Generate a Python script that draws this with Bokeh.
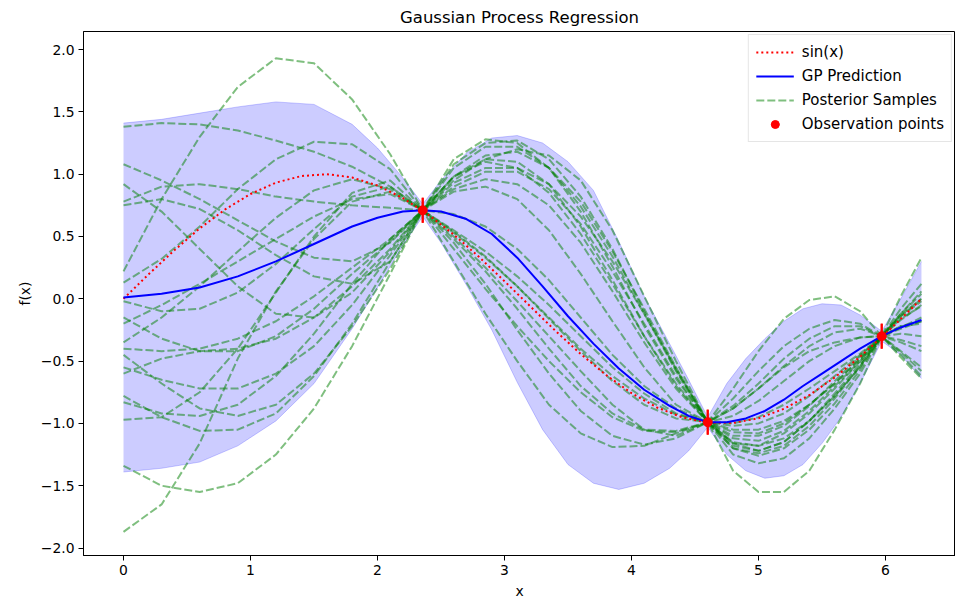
import math
from bokeh.plotting import figure
from bokeh.models import Range1d, FixedTicker, CustomJSTickFormatter, Legend, LegendItem
from bokeh.embed import file_html
from bokeh.resources import INLINE

# ---- true function sin(x)
sin_x = [0.0, 0.2, 0.4, 0.6, 0.8, 1.0, 1.2, 1.4, 1.6, 1.8, 2.0, 2.2, 2.4, 2.6, 2.8, 3.0,
         3.2, 3.4, 3.6, 3.8, 4.0, 4.2, 4.4, 4.6, 4.8, 5.0, 5.2, 5.4, 5.6, 5.8, 6.0, 6.2, 6.283]
sin_y = [0.0, 0.199, 0.389, 0.565, 0.717, 0.841, 0.932, 0.985, 1.0, 0.974, 0.909, 0.808,
         0.675, 0.516, 0.335, 0.141, -0.058, -0.256, -0.443, -0.612, -0.757, -0.872,
         -0.952, -0.994, -0.996, -0.959, -0.883, -0.773, -0.631, -0.465, -0.279, -0.083, 0.0]

# ---- GP prediction and confidence band
grid_x = [0.0, 0.3, 0.6, 0.9, 1.2, 1.5, 1.8, 2.0, 2.2, 2.356, 2.5, 2.7, 2.9, 3.1, 3.3,
          3.5, 3.7, 3.9, 4.1, 4.3, 4.45, 4.6, 4.75, 4.9, 5.05, 5.2, 5.35, 5.5, 5.65,
          5.8, 5.97, 6.12, 6.283]
gp_mean = [0.01, 0.04, 0.09, 0.18, 0.30, 0.44, 0.58, 0.65, 0.70, 0.71, 0.70, 0.64, 0.52,
           0.33, 0.10, -0.14, -0.36, -0.56, -0.73, -0.86, -0.94, -0.99, -0.99, -0.96,
           -0.90, -0.81, -0.70, -0.60, -0.50, -0.40, -0.30, -0.23, -0.17]
gp_upper = [1.41, 1.44, 1.49, 1.54, 1.58, 1.56, 1.40, 1.21, 0.97, 0.76, 0.95, 1.17, 1.29,
            1.31, 1.25, 1.10, 0.87, 0.46, 0.02, -0.36, -0.65, -0.95, -0.68, -0.48,
            -0.32, -0.18, -0.08, -0.04, -0.05, -0.13, -0.26, 0.00, 0.30]
gp_lower = [-1.39, -1.36, -1.31, -1.18, -0.98, -0.68, -0.24, 0.09, 0.43, 0.66, 0.45, 0.11,
            -0.25, -0.67, -1.05, -1.33, -1.48, -1.53, -1.48, -1.36, -1.22, -1.03, -1.25,
            -1.38, -1.44, -1.42, -1.33, -1.16, -0.95, -0.68, -0.34, -0.45, -0.64]

# ---- posterior samples (read at these x positions)
sample_x = [0.0, 0.3, 0.6, 0.9, 1.2, 1.5, 1.8, 2.1, 2.356,
            2.6, 2.85, 3.1, 3.35, 3.6, 3.85, 4.1, 4.35, 4.6,
            4.8, 5.0, 5.2, 5.4, 5.6, 5.8, 5.97, 6.12, 6.283]
s01 = [0.22, 0.80, 1.30, 1.70, 1.93, 1.89, 1.60, 1.16, 0.71,
       0.30, -0.12, -0.50, -0.85, -1.08, -1.19, -1.18, -1.08, -0.99,
       -0.88, -0.72, -0.55, -0.42, -0.35, -0.31, -0.30, -0.33, -0.38]
s02 = [1.38, 1.41, 1.40, 1.35, 1.27, 1.18, 1.06, 0.90, 0.71,
       0.53, 0.33, 0.10, -0.15, -0.40, -0.62, -0.80, -0.93, -0.99,
       -1.02, -1.00, -0.92, -0.78, -0.62, -0.45, -0.30, -0.17, -0.05]
s03 = [1.08, 0.95, 0.80, 0.63, 0.46, 0.33, 0.30, 0.45, 0.71,
       0.95, 1.12, 1.20, 1.15, 0.95, 0.55, 0.02, -0.50, -0.99,
       -1.38, -1.55, -1.55, -1.38, -1.05, -0.68, -0.30, 0.02, 0.33]
s04 = [0.78, 0.90, 0.92, 0.88, 0.82, 0.78, 0.75, 0.73, 0.71,
       0.68, 0.58, 0.40, 0.15, -0.15, -0.45, -0.70, -0.88, -0.99,
       -1.05, -1.05, -0.98, -0.85, -0.68, -0.48, -0.30, -0.24, -0.18]
s05 = [0.75, 0.80, 0.72, 0.55, 0.35, 0.18, 0.12, 0.30, 0.71,
       1.08, 1.25, 1.27, 1.12, 0.82, 0.40, -0.10, -0.57, -0.99,
       -1.20, -1.26, -1.20, -1.05, -0.84, -0.57, -0.30, -0.12, 0.06]
s06 = [0.13, 0.32, 0.58, 0.88, 1.12, 1.26, 1.24, 1.04, 0.71,
       0.40, 0.08, -0.22, -0.50, -0.75, -0.95, -1.06, -1.07, -0.99,
       -0.88, -0.72, -0.54, -0.38, -0.27, -0.24, -0.30, -0.42, -0.55]
s07 = [-0.02, -0.10, -0.08, 0.05, 0.28, 0.56, 0.82, 0.90, 0.71,
       0.50, 0.25, -0.02, -0.30, -0.58, -0.85, -1.05, -1.10, -0.99,
       -0.72, -0.42, -0.16, -0.01, 0.02, -0.10, -0.30, -0.47, -0.64]
s08 = [-0.15, -0.32, -0.42, -0.42, -0.30, -0.08, 0.20, 0.46, 0.71,
       0.90, 1.02, 1.02, 0.88, 0.60, 0.22, -0.20, -0.62, -0.99,
       -1.15, -1.18, -1.12, -0.98, -0.78, -0.55, -0.30, -0.14, -0.02]
s09 = [-0.35, -0.15, 0.10, 0.38, 0.65, 0.87, 0.96, 0.88, 0.71,
       0.55, 0.38, 0.18, -0.05, -0.30, -0.55, -0.76, -0.92, -0.99,
       -1.00, -0.95, -0.85, -0.72, -0.58, -0.44, -0.30, -0.23, -0.15]
s10 = [-0.40, -0.42, -0.40, -0.32, -0.18, 0.02, 0.25, 0.48, 0.71,
       0.88, 0.96, 0.92, 0.75, 0.45, 0.06, -0.35, -0.72, -0.99,
       -1.12, -1.14, -1.06, -0.90, -0.70, -0.50, -0.30, -0.16, -0.06]
s11 = [-0.45, -0.68, -0.88, -0.94, -0.85, -0.60, -0.22, 0.24, 0.71,
       1.05, 1.22, 1.22, 1.05, 0.74, 0.34, -0.12, -0.58, -0.99,
       -1.20, -1.24, -1.18, -1.02, -0.80, -0.54, -0.30, -0.13, 0.00]
s12 = [-0.60, -0.48, -0.42, -0.40, -0.32, -0.15, 0.10, 0.40, 0.71,
       0.93, 1.05, 1.05, 0.92, 0.66, 0.30, -0.12, -0.56, -0.99,
       -1.16, -1.18, -1.08, -0.92, -0.72, -0.50, -0.30, -0.14, 0.00]
s13 = [-0.78, -0.95, -1.06, -1.05, -0.92, -0.62, -0.20, 0.30, 0.71,
       0.98, 1.10, 1.05, 0.85, 0.52, 0.12, -0.30, -0.68, -0.99,
       -1.16, -1.22, -1.15, -0.98, -0.76, -0.52, -0.30, -0.22, -0.20]
s14 = [-0.83, -0.92, -0.94, -0.85, -0.62, -0.28, 0.12, 0.48, 0.71,
       0.86, 0.90, 0.80, 0.55, 0.20, -0.18, -0.55, -0.85, -0.99,
       -1.07, -1.08, -1.00, -0.85, -0.68, -0.48, -0.30, -0.22, -0.18]
s15 = [-0.97, -0.95, -0.75, -0.40, 0.05, 0.50, 0.85, 0.95, 0.71,
       0.48, 0.22, -0.08, -0.40, -0.70, -0.92, -1.05, -1.06, -0.99,
       -0.86, -0.68, -0.48, -0.32, -0.22, -0.22, -0.30, -0.43, -0.58]
s16 = [-1.34, -1.50, -1.55, -1.48, -1.25, -0.88, -0.38, 0.20, 0.71,
       1.12, 1.28, 1.25, 1.05, 0.70, 0.26, -0.22, -0.64, -0.99,
       -1.18, -1.22, -1.15, -0.98, -0.78, -0.54, -0.30, -0.12, 0.04]
s17 = [-1.87, -1.65, -1.16, -0.48, 0.06, 0.48, 0.78, 0.86, 0.71,
       0.45, 0.12, -0.25, -0.60, -0.90, -1.10, -1.17, -1.12, -0.99,
       -0.80, -0.58, -0.38, -0.24, -0.17, -0.20, -0.30, -0.45, -0.62]
s18 = [-0.55, -0.65, -0.72, -0.72, -0.60, -0.38, -0.05, 0.35, 0.71,
       0.98, 1.12, 1.10, 0.92, 0.58, 0.15, -0.30, -0.70, -0.99,
       -1.10, -1.10, -1.02, -0.86, -0.66, -0.46, -0.30, -0.28, -0.30]
s19 = [0.92, 0.70, 0.40, 0.10, -0.12, -0.15, 0.05, 0.38, 0.71,
       0.98, 1.15, 1.18, 1.05, 0.78, 0.38, -0.08, -0.55, -0.99,
       -1.25, -1.32, -1.28, -1.12, -0.88, -0.60, -0.30, -0.08, 0.12]
s20 = [-0.20, -0.05, 0.12, 0.30, 0.48, 0.66, 0.80, 0.84, 0.71,
       0.54, 0.34, 0.10, -0.16, -0.42, -0.66, -0.85, -0.96, -0.99,
       -0.94, -0.82, -0.66, -0.50, -0.38, -0.31, -0.30, -0.35, -0.42]
samples = [s01, s02, s03, s04, s05, s06, s07, s08, s09, s10,
           s11, s12, s13, s14, s15, s16, s17, s18, s19, s20]

# ---- observations
obs_x = [2.356, 4.60, 5.97]
obs_y = [0.71, -0.99, -0.30]
obs_err = [0.1, 0.1, 0.1]

x_ticks = [0, 1, 2, 3, 4, 5, 6]
y_ticks = [-2.0, -1.5, -1.0, -0.5, 0.0, 0.5, 1.0, 1.5, 2.0]

FONT = "DejaVu Sans"

p = figure(width=955, height=603, output_backend="svg", toolbar_location=None,
           x_range=Range1d(-0.315, 6.551), y_range=Range1d(-2.06, 2.145),
           min_border_left=83, min_border_right=0, min_border_top=30, min_border_bottom=48,
           title="Gaussian Process Regression")
p.title.align = "center"
p.title.text_font = FONT
p.title.text_font_size = "16.5px"
p.title.text_font_style = "normal"
p.title.text_color = "black"

p.xgrid.visible = False
p.ygrid.visible = False
p.outline_line_color = "black"
p.outline_line_width = 1
p.background_fill_color = "white"
p.border_fill_color = "white"

for ax in (p.xaxis[0], p.yaxis[0]):
    ax.major_tick_out = 5
    ax.major_tick_in = 0
    ax.minor_tick_line_color = None
    ax.axis_line_color = "black"
    ax.major_tick_line_color = "black"
    ax.major_label_text_font = FONT
    ax.major_label_text_font_size = "13.9px"
    ax.major_label_text_color = "black"
    ax.axis_label_text_font = FONT
    ax.axis_label_text_font_size = "13.9px"
    ax.axis_label_text_font_style = "normal"
    ax.axis_label_text_color = "black"
    ax.major_label_standoff = 4

p.xaxis.ticker = FixedTicker(ticks=x_ticks)
p.yaxis.ticker = FixedTicker(ticks=y_ticks)
p.xaxis.formatter = CustomJSTickFormatter(code="return tick.toFixed(0);")
p.yaxis.formatter = CustomJSTickFormatter(
    code="return (tick < 0 ? '\\u2212' : '') + Math.abs(tick).toFixed(1);")
p.xaxis.axis_label = "x"
p.yaxis.axis_label = "f(x)"

# band
p.varea(x=grid_x, y1=gp_lower, y2=gp_upper, fill_color="blue", fill_alpha=0.2)
p.line(grid_x, gp_upper, line_color="blue", line_alpha=0.2, line_width=1)
p.line(grid_x, gp_lower, line_color="blue", line_alpha=0.2, line_width=1)

# samples
r_samples = p.multi_line(xs=[sample_x] * len(samples), ys=samples, line_color="green",
                         line_alpha=0.5, line_width=2, line_dash="8 3")

# sin(x)
r_sin = p.line(sin_x, sin_y, line_color="red", line_width=2, line_dash="2 3")

# GP mean
r_mean = p.line(grid_x, gp_mean, line_color="blue", line_width=2)

# observations with error bars
err_lo = [y - e for y, e in zip(obs_y, obs_err)]
err_hi = [y + e for y, e in zip(obs_y, obs_err)]
p.segment(x0=obs_x, y0=err_lo, x1=obs_x, y1=err_hi, line_color="red", line_width=2)
r_bar = p.scatter(obs_x, obs_y, marker="dash", angle=math.pi / 2, size=25,
                  line_color="red", line_width=2)
r_obs = p.scatter(obs_x, obs_y, marker="circle", size=9, fill_color="red", line_color="red")

legend = Legend(items=[
    LegendItem(label="sin(x)", renderers=[r_sin]),
    LegendItem(label="GP Prediction", renderers=[r_mean]),
    LegendItem(label="Posterior Samples", renderers=[r_samples]),
    LegendItem(label="Observation points", renderers=[r_bar, r_obs]),
], location="top_right")
legend.label_text_font = FONT
legend.label_text_font_size = "15px"
legend.label_text_color = "black"
legend.glyph_width = 38
legend.glyph_height = 20
legend.spacing = 4
legend.padding = 7
legend.margin = 3
legend.label_standoff = 8
legend.border_line_color = "#cccccc"
legend.border_line_width = 1
legend.background_fill_alpha = 0.8
p.add_layout(legend)

open("out.html", "w").write(file_html(p, INLINE))
